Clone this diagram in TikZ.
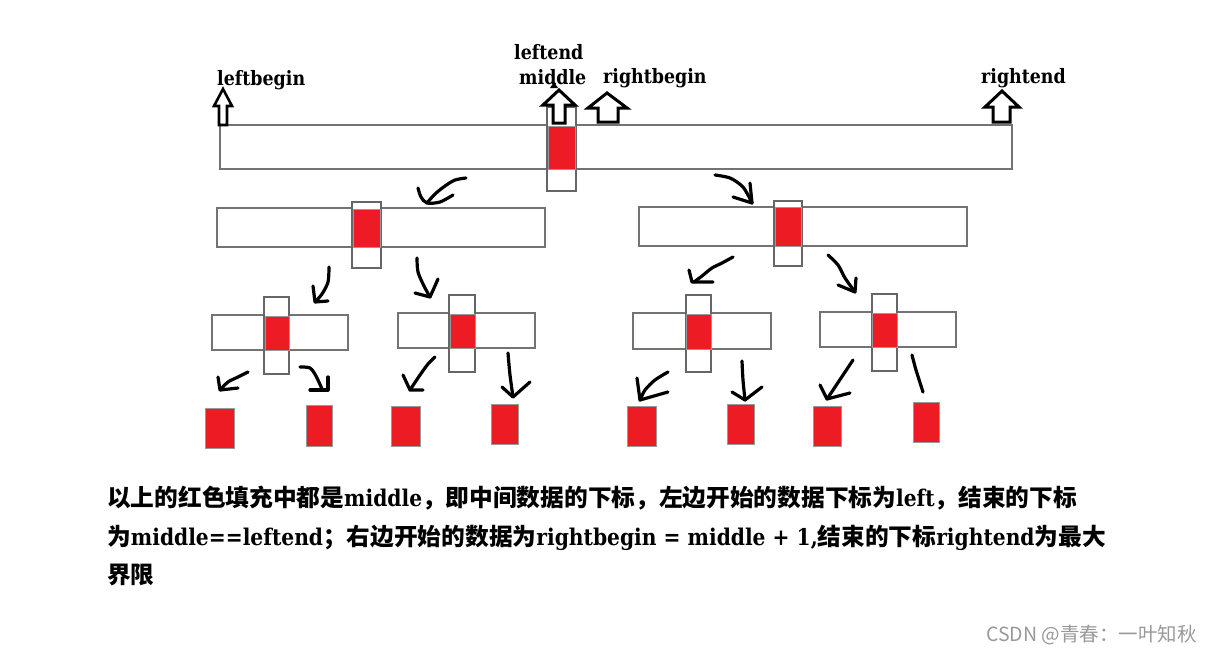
\documentclass[tikz,border=0pt]{standalone}
\usepackage{fontspec}
\newfontfamily\lab{DejaVu Serif}[FakeStretch=0.88]
\newfontfamily\cjk{Noto Sans CJK SC}
\definecolor{pred}{HTML}{ED1C24}
\definecolor{wm}{HTML}{999999}
\newcommand\zh[1]{{\cjk\bfseries\fontsize{23.7}{23.7}\selectfont #1}}
\newcommand\en[1]{{\lab\bfseries\fontsize{23}{23}\selectfont #1}}
\begin{document}
\begin{tikzpicture}[x=1pt,y=-1pt,
 bar/.style={draw=black!55, line width=1.1pt},
 col/.style={draw=black!60, line width=1.1pt, fill=white},
 redcell/.style={fill=pred, draw=black!40, line width=0.9pt},
 hand/.style={line width=3.2pt, line cap=round, line join=round},
 blockarrow/.style={draw=black, line width=3pt, fill=white, line join=miter},
 lbl/.style={font=\lab\bfseries\fontsize{19.8}{19.8}\selectfont, anchor=base west, inner sep=0pt},
 txt/.style={anchor=base west, inner sep=0pt}
]
\fill[white] (0,0) rectangle (1213,653);
\path[use as bounding box] (0,0) rectangle (1213,653);

% ---- level 1
\draw[bar] (220,125) rectangle (1012,169);
\draw[col] (547,107) rectangle (576,191);
\draw[redcell] (548,126) rectangle (575,169);

% block arrows
\draw[blockarrow, line width=2.6pt] (219,125) -- (219,106) -- (214,106) -- (223,89) -- (232,106) -- (227,106) -- (227,125) -- cycle;
\draw[blockarrow] (553,123) -- (553,105) -- (543,105) -- (559,90) -- (575,105) -- (565,105) -- (565,123) -- cycle;
\draw[blockarrow] (598,122) -- (598,108) -- (588,108) -- (607,93) -- (627,108) -- (618,108) -- (618,122) -- cycle;
\draw[blockarrow] (993,122) -- (993,107) -- (985,107) -- (1002,91) -- (1019,107) -- (1010,107) -- (1010,122) -- cycle;
\fill (550,88) -- (554,82) -- (558,88) -- cycle;

% labels
\node[lbl] (lb) at (217,85) {leftbegin};
\node[lbl] (le) at (514,59) {leftend};
\node[lbl] (mi) at (519,84) {middle};
\node[lbl] (rb) at (603,83) {rightbegin};
\node[lbl] (re) at (981,83) {rightend};

% ---- level 2
\draw[bar] (217,208) rectangle (545,247);
\draw[col] (352,202) rectangle (381,268);
\draw[redcell] (353,209) rectangle (380,247);
\draw[bar] (639,207) rectangle (967,246);
\draw[col] (774,201) rectangle (802,266);
\draw[redcell] (775,207) rectangle (801,246);

% ---- level 3
\draw[bar] (212,315) rectangle (348,350);
\draw[col] (264,297) rectangle (289,374);
\draw[redcell] (265,316) rectangle (289,350);
\draw[bar] (398,313) rectangle (535,348);
\draw[col] (449,295) rectangle (475,372);
\draw[redcell] (450,314) rectangle (475,348);
\draw[bar] (633,313) rectangle (771,349);
\draw[col] (686,295) rectangle (711,372);
\draw[redcell] (686,314) rectangle (711,349);
\draw[bar] (820,312) rectangle (956,347);
\draw[col] (872,294) rectangle (897,371);
\draw[redcell] (872,313) rectangle (897,347);

% ---- level 4
\draw[redcell] (205,408) rectangle (234,448);
\draw[redcell] (306,405) rectangle (332,446);
\draw[redcell] (391,406) rectangle (420,446);
\draw[redcell] (491,404) rectangle (518,444);
\draw[redcell] (627,406) rectangle (656,446);
\draw[redcell] (727,404) rectangle (754,444);
\draw[redcell] (813,406) rectangle (841,446);
\draw[redcell] (913,402) rectangle (939,442);

% ---- hand drawn arrows
\draw[hand] plot[smooth] coordinates {(466,178) (455,180) (445,186) (435,194) (427,203)};
\draw[hand] plot[smooth] coordinates {(418,188) (421,197) (427,203) (440,202) (453,195)};
\draw[hand] plot[smooth] coordinates {(715,175) (730,178) (742,186) (748,195) (752,203)};
\draw[hand] (733,197) -- (752,203) -- (750,183);
\draw[hand] plot[smooth] coordinates {(329,267) (328,282) (322,294) (315,302)};
\draw[hand] (313,286) -- (315,302) -- (328,301);
\draw[hand] plot[smooth] coordinates {(417,258) (418,272) (424,286) (430,297)};
\draw[hand] (415,293) -- (430,297) -- (438,279);
\draw[hand] plot[smooth] coordinates {(733,257) (722,263) (712,268) (702,276) (694,282)};
\draw[hand] (689,270) -- (692,282) -- (713,282);
\draw[hand] plot[smooth] coordinates {(828,255) (838,265) (845,278) (855,292)};
\draw[hand] (838,285) -- (855,292) -- (856,278);
\draw[hand] plot[smooth] coordinates {(248,372) (238,377) (228,382) (220,390)};
\draw[hand] (218,377) -- (220,390) -- (238,388);
\draw[hand] plot[smooth] coordinates {(300,367) (310,368) (316,376) (322,389)};
\draw[hand] (310,390) -- (328,390) -- (328,377);
\draw[hand] plot[smooth] coordinates {(435,357) (428,364) (420,375) (410,390)};
\draw[hand] (403,375) -- (410,390) -- (423,390);
\draw[hand] plot[smooth] coordinates {(508,353) (510,375) (513,397)};
\draw[hand] (502,387) -- (513,397) -- (530,382);
\draw[hand] plot[smooth] coordinates {(668,372) (655,380) (645,390) (640,400)};
\draw[hand] (637,378) -- (640,400) -- (668,392);
\draw[hand] plot[smooth] coordinates {(742,361) (743,380) (745,400)};
\draw[hand] (732,392) -- (745,400) -- (762,387);
\draw[hand] plot[smooth] coordinates {(853,360) (845,372) (835,387) (827,399)};
\draw[hand] (820,385) -- (827,399) -- (850,393);
\draw[hand] plot[smooth] coordinates {(912,355) (916,370) (923,392)};

% ---- bottom text
\node[txt] (t1) at (107,506) {\zh{以上的红色填充中都是}\en{middle}\zh{，即中间数据的下标，左边开始的数据下标为}\en{left}\zh{，结束的下标}};
\node[txt] (t2) at (107,545) {\zh{为}\en{middle==leftend}\zh{；右边开始的数据为}\en{rightbegin = middle + 1,}\zh{结束的下标}\en{rightend}\zh{为最大}};
\node[txt] (t3) at (107,583) {\zh{界限}};

\node[txt, text=wm, font=\cjk\fontsize{19.5}{19.5}\selectfont] (wmk) at (986,641) {CSDN @青春：一叶知秋};
\end{tikzpicture}
\end{document}
